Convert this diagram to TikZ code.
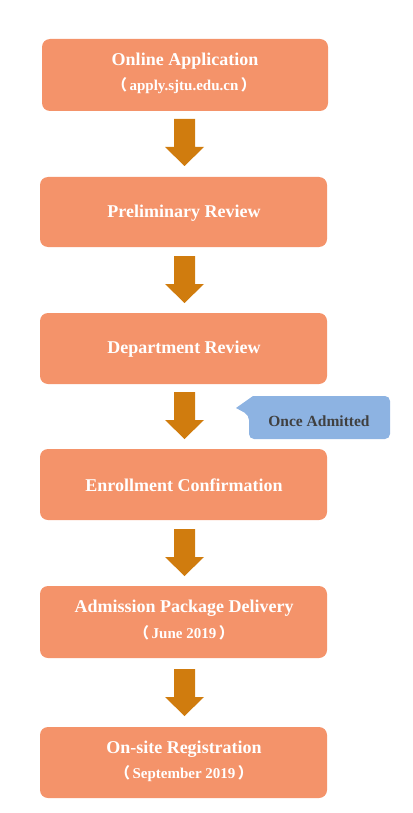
\documentclass[tikz,border=0pt]{standalone}
\usepackage{fontspec}
\setmainfont{Liberation Serif}
\newfontfamily\cjk{Noto Sans CJK SC}
\newcommand{\lpar}{{\cjk （}\hspace{2.5pt}}
\newcommand{\rpar}{\hspace{2.5pt}{\cjk ）}}
\definecolor{boxfill}{HTML}{F4936A}
\definecolor{arrowfill}{HTML}{D07C0E}
\definecolor{callfill}{HTML}{8DB3E2}
\definecolor{calltext}{HTML}{404040}
\begin{document}
\begin{tikzpicture}[x=1pt,y=-1pt,
  stepbox/.style={fill=boxfill,rounded corners=8pt,draw=none},
  title/.style={text=white,font=\bfseries\fontsize{18}{20}\selectfont,inner sep=0pt},
  sub/.style={text=white,font=\bfseries\fontsize{15}{17}\selectfont,inner sep=0pt},
  bigarrow/.style={fill=arrowfill,draw=none}]
\useasboundingbox (0,0) rectangle (412,813);
% boxes
\fill[stepbox] (42,39) rectangle (328,111);
\node[title] (t1) at (185,61) {Online Application};
\node[sub] (s1) at (184,86) {\lpar apply.sjtu.edu.cn\rpar};
\fill[stepbox] (40,177) rectangle (327,247);
\node[title] (t2) at (184,213) {Preliminary Review};
\fill[stepbox] (40,313) rectangle (327,384);
\node[title] (t3) at (184,349) {Department Review};
\fill[stepbox] (40,449) rectangle (327,520);
\node[title] (t4) at (184,485) {Enrollment Confirmation};
\fill[stepbox] (40,586) rectangle (327,658);
\node[title] (t5) at (184,608) {Admission Package Delivery};
\node[sub] (s5) at (184,633) {\lpar June 2019\rpar};
\fill[stepbox] (40,727) rectangle (327,798);
\node[title] (t6) at (184,749) {On-site Registration};
\node[sub] (s6) at (184,774) {\lpar September 2019\rpar};
% arrows
\foreach \y in {119,256,392,529,669}{
  \fill[bigarrow] (174,\y) -- (195,\y) -- (195,\y+28) -- (204,\y+28) -- (184.5,\y+47) -- (165,\y+28) -- (174,\y+28) -- cycle;
}
% callout
\fill[callfill,rounded corners=5pt] (253,396) -- (390,396) -- (390,439) -- (249,439) -- (249,415) [sharp corners] -- (236,408) -- (253,396);
\node[text=calltext,font=\bfseries\fontsize{15.5}{17}\selectfont,inner sep=0pt] (c) at (319,421) {Once Admitted};
\end{tikzpicture}
\end{document}
